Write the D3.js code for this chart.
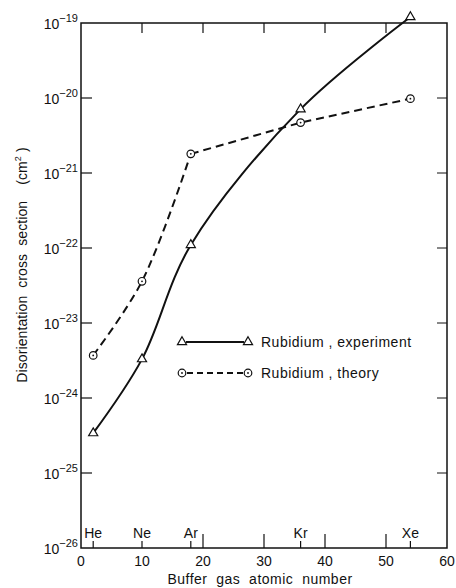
<!DOCTYPE html>
<html>
<head>
<meta charset="utf-8">
<script src="https://cdn.jsdelivr.net/npm/d3@7"></script>
<style>
  body { margin: 0; background: #fff; }
  text { font-family: "Liberation Sans", "DejaVu Sans", sans-serif; fill: #111; white-space: pre; }
</style>
</head>
<body>
<div id="chart"></div>
<script>
// data
const elements = ["He", "Ne", "Ar", "Kr", "Xe"];
const atomicNumbers = [2, 10, 18, 36, 54];
const experiment = [3.4e-25, 3.3e-24, 1.1e-22, 7.1e-21, 1.2e-19];
const theory = [3.7e-24, 3.6e-23, 1.8e-21, 4.7e-21, 9.8e-21];
const yExponents = [-26, -25, -24, -23, -22, -21, -20, -19];
const xTicks = [0, 10, 20, 30, 40, 50, 60];
const legendLabels = ["Rubidium , experiment", "Rubidium , theory"];

const width = 456, height = 588;
const margin = {top: 23, right: 9, bottom: 40, left: 81};

const svg = d3.select("#chart").append("svg")
    .attr("width", width)
    .attr("height", height);

const x = d3.scaleLinear().domain([0, 60]).range([margin.left, width - margin.right]);
const y = d3.scaleLog().domain([1e-26, 1e-19]).range([height - margin.bottom, margin.top]);

const x0 = x(0), x1 = x(60), yb = y(1e-26), yt = y(1e-19);

// frame
svg.append("rect")
    .attr("x", x0).attr("y", yt)
    .attr("width", x1 - x0).attr("height", yb - yt)
    .attr("fill", "none").attr("stroke", "#111").attr("stroke-width", 1.5);

// y ticks, left and right, inward
yExponents.slice(1, -1).forEach(e => {
  const yy = y(Math.pow(10, e));
  svg.append("line").attr("x1", x0).attr("x2", x0 + 11).attr("y1", yy).attr("y2", yy)
      .attr("stroke", "#111").attr("stroke-width", 1.2);
  svg.append("line").attr("x1", x1).attr("x2", x1 - 10).attr("y1", yy).attr("y2", yy)
      .attr("stroke", "#111").attr("stroke-width", 1);
});

// y tick labels
yExponents.forEach(e => {
  const t = svg.append("text")
      .attr("x", x0 - 3)
      .attr("y", y(Math.pow(10, e)) + 6)
      .attr("text-anchor", "end")
      .attr("font-size", 14);
  t.append("tspan").text("10");
  t.append("tspan").attr("dy", -7).attr("font-size", 11).text("\u2212" + Math.abs(e));
});

// x ticks: top inward, bottom inward
xTicks.slice(1, -1).forEach(v => {
  svg.append("line").attr("x1", x(v)).attr("x2", x(v)).attr("y1", yt).attr("y2", yt + 10)
      .attr("stroke", "#111").attr("stroke-width", 1.2);
  if (v >= 20) {
    svg.append("line").attr("x1", x(v)).attr("x2", x(v)).attr("y1", yb).attr("y2", yb - 14)
        .attr("stroke", "#111").attr("stroke-width", 1.2);
  }
});

svg.selectAll(".xlab").data(xTicks).enter().append("text")
    .attr("x", d => x(d))
    .attr("y", yb + 18)
    .attr("text-anchor", "middle")
    .attr("font-size", 14)
    .text(d => d);

// element ticks and labels
atomicNumbers.forEach((z, i) => {
  svg.append("line").attr("x1", x(z)).attr("x2", x(z)).attr("y1", yb).attr("y2", yb - 7)
      .attr("stroke", "#111").attr("stroke-width", 1.2);
  svg.append("text")
      .attr("x", x(z)).attr("y", yb - 10)
      .attr("text-anchor", "middle")
      .attr("font-size", 14)
      .text(elements[i]);
});

// axis titles
svg.append("text")
    .attr("x", (x0 + x1) / 2 - 4).attr("y", height - 4)
    .attr("text-anchor", "middle")
    .attr("font-size", 14)
    .attr("letter-spacing", 0.5)
    .text("Buffer  gas  atomic  number");

const yl = svg.append("text")
    .attr("transform", "translate(27," + 265 + ") rotate(-90)")
    .attr("text-anchor", "middle")
    .attr("font-size", 14)
    .attr("letter-spacing", 0.1);
yl.append("tspan").text("Disorientation  cross  section    (cm");
yl.append("tspan").attr("dy", -6).attr("font-size", 9).text("2");
yl.append("tspan").attr("dy", 6).text(" )");

// curves
const pathX = (d, i) => x(atomicNumbers[i]);

const expLine = d3.line()
    .x(pathX)
    .y(d => y(d))
    .curve(d3.curveCatmullRom.alpha(0.5));

svg.append("path").attr("d", expLine(experiment))
    .attr("fill", "none").attr("stroke", "#111").attr("stroke-width", 2);

// theory: smooth up to Ar, then straight segments
const thLow = d3.line()
    .x(pathX)
    .y(d => y(d))
    .curve(d3.curveCatmullRom.alpha(0.5));
const thHigh = d3.line()
    .x((d, i) => x(atomicNumbers[i + 2]))
    .y(d => y(d));

svg.append("path").attr("d", thLow(theory.slice(0, 3)))
    .attr("fill", "none").attr("stroke", "#111").attr("stroke-width", 2)
    .attr("stroke-dasharray", "8,5");
svg.append("path").attr("d", thHigh(theory.slice(2)))
    .attr("fill", "none").attr("stroke", "#111").attr("stroke-width", 2)
    .attr("stroke-dasharray", "8,5");

const tri = d3.symbol().type(d3.symbolTriangle).size(36);

function triangle(g, cx, cy) {
  g.append("path").attr("d", tri())
      .attr("transform", "translate(" + cx + "," + cy + ")")
      .attr("fill", "#fff").attr("stroke", "#111").attr("stroke-width", 1.2);
}
function circle(g, cx, cy) {
  g.append("circle").attr("cx", cx).attr("cy", cy).attr("r", 3.8)
      .attr("fill", "#fff").attr("stroke", "#111").attr("stroke-width", 1.2);
  g.append("circle").attr("cx", cx).attr("cy", cy).attr("r", 0.9).attr("fill", "#111");
}

experiment.forEach((v, i) => triangle(svg, x(atomicNumbers[i]), y(v)));
theory.forEach((v, i) => circle(svg, x(atomicNumbers[i]), y(v)));

// legend
const lx = 182, ly = 342, lgap = 31;
svg.append("line").attr("x1", lx + 4).attr("x2", lx + 62).attr("y1", ly).attr("y2", ly)
    .attr("stroke", "#111").attr("stroke-width", 2);
triangle(svg, lx, ly);
triangle(svg, lx + 66, ly);
svg.append("line").attr("x1", lx + 5).attr("x2", lx + 62).attr("y1", ly + lgap).attr("y2", ly + lgap)
    .attr("stroke", "#111").attr("stroke-width", 2).attr("stroke-dasharray", "6,4");
circle(svg, lx, ly + lgap);
circle(svg, lx + 66, ly + lgap);

legendLabels.forEach((s, i) => {
  svg.append("text")
      .attr("x", lx + 79).attr("y", ly + 5 + i * lgap)
      .attr("font-size", 14)
      .attr("letter-spacing", 0.5)
      .text(s);
});
</script>
</body>
</html>
